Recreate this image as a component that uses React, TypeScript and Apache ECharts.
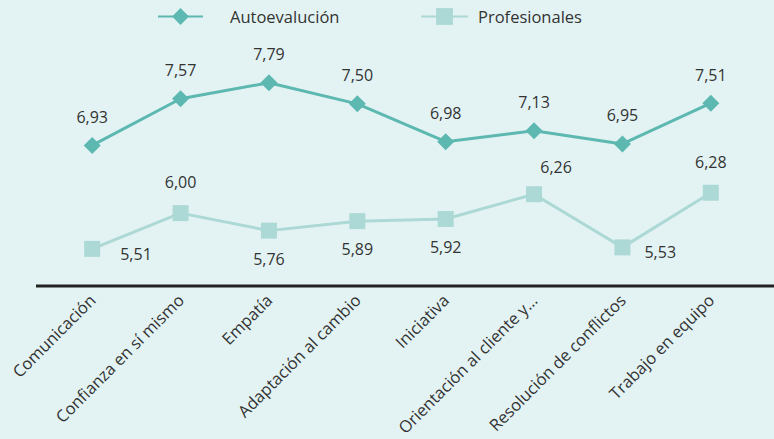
import React, { useEffect, useRef } from "react";
import * as echarts from "echarts";

const categories = [
  "Comunicación",
  "Confianza en sí mismo",
  "Empatía",
  "Adaptación al cambio",
  "Iniciativa",
  "Orientación al cliente y...",
  "Resolución de conflictos",
  "Trabajo en equipo",
];
const autoevaluacion = [6.93, 7.57, 7.79, 7.5, 6.98, 7.13, 6.95, 7.51];
const profesionales = [5.51, 6.0, 5.76, 5.89, 5.92, 6.26, 5.53, 6.28];
const profLabelPos = ["right", "top", "bottom", "bottom", "bottom", "top", "right", "top"];

const FONT = "Open Sans";
const TEXT = "#333333";
const C1 = "#5cb8b0";
const C2 = "#acd8d6";

const fmt = (v: number) => v.toFixed(2).replace(".", ",");

const profLabelStyle = (i: number) => {
  const pos = profLabelPos[i];
  if (pos === "right") return { position: "right", distance: i === 0 ? 20 : 14, offset: [0, 5] };
  if (pos === "top") return { position: "top", distance: 15, offset: i === 5 ? [22, 4] : [0, 0] };
  return { position: "bottom", distance: 12 };
};

export default function App() {
  const ref = useRef<HTMLDivElement>(null);
  useEffect(() => {
    const chart = echarts.init(ref.current!, null, { renderer: "svg" });
    chart.setOption({
      animation: false,
      backgroundColor: "#e3f3f3",
      textStyle: { fontFamily: FONT },
      legend: [
        {
          left: 157,
          top: 8,
          padding: 0,
          itemWidth: 45,
          itemHeight: 21,
          data: ["Autoevalución"],
          textStyle: { fontFamily: FONT, fontSize: 16.5, color: TEXT, padding: [0, 0, 2, 22] },
        },
        {
          left: 420,
          top: 8,
          padding: 0,
          itemWidth: 47,
          itemHeight: 21,
          data: ["Profesionales"],
          textStyle: { fontFamily: FONT, fontSize: 16.5, color: TEXT, padding: [5, 0, 0, 5] },
        },
      ],
      grid: { left: 48, right: 19, top: 31, bottom: 153, containLabel: false },
      xAxis: {
        type: "category",
        data: categories,
        boundaryGap: true,
        axisLine: { show: false },
        axisTick: { show: false },
        axisLabel: {
          rotate: 45,
          interval: 0,
          margin: 11,
          fontFamily: FONT,
          fontSize: 16.5,
          color: TEXT,
        },
      },
      yAxis: {
        type: "value",
        min: 5,
        max: 8.5,
        show: false,
        splitLine: { show: false },
      },
      graphic: [
        {
          type: "line",
          shape: { x1: 36, y1: 286, x2: 774, y2: 286 },
          style: { stroke: "#222222", lineWidth: 3 },
        },
      ],
      series: [
        {
          name: "Autoevalución",
          type: "line",
          data: autoevaluacion,
          symbol: "diamond",
          symbolSize: 17,
          itemStyle: { color: C1 },
          lineStyle: { color: C1, width: 3 },
          label: {
            show: true,
            position: "top",
            distance: 12,
            fontFamily: FONT,
            fontSize: 16,
            color: TEXT,
            formatter: (p: any) => fmt(p.value),
          },
        },
        {
          name: "Profesionales",
          type: "line",
          data: profesionales.map((v, i) => ({
            value: v,
            label: profLabelStyle(i),
          })),
          symbol: "rect",
          symbolSize: 16,
          itemStyle: { color: C2 },
          lineStyle: { color: C2, width: 3 },
          label: {
            show: true,
            fontFamily: FONT,
            fontSize: 16,
            color: TEXT,
            formatter: (p: any) => fmt(p.value),
          },
        },
      ],
    });
    return () => chart.dispose();
  }, []);
  return (
    <div
      ref={ref}
      style={{ width: 774, height: 439, position: "fixed", left: 0, top: 0 }}
    />
  );
}
